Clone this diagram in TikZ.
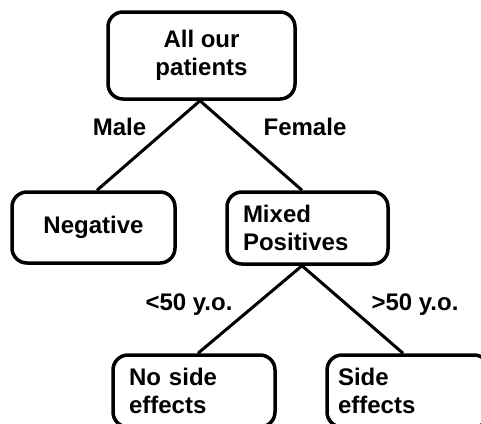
\documentclass[tikz,border=0pt]{standalone}
\usepackage{fontspec}
\setmainfont{Liberation Sans}
\usetikzlibrary{positioning}

\begin{document}
\begin{tikzpicture}
  [
   x=1pt,y=-1pt,
   font=\fontsize{24}{28}\selectfont\bfseries,
   box/.style={rectangle,rounded corners=15pt,line width=3.5pt,draw=black,inner xsep=16pt,inner ysep=0pt,minimum height=72pt},
   lbl/.style={anchor=base,inner sep=0pt},
   edge/.style={line width=3pt}
  ]
   \clip (0,0) rectangle (481,423);

   \node[box,minimum width=187pt,minimum height=87pt,align=center] (all) at (201.5,55.5) {All our\\patients};
   \node[box,minimum width=163pt,minimum height=71pt,align=center] (neg) at (93.5,227.5) {Negative};
   \node[box,text width=129pt,align=left] (mix) at (307.5,228) {Mixed\\Positives};
   \node[box,text width=130pt,align=left] (noside) at (194,391) {No side\\effects};
   \node[box,inner xsep=11pt,text width=140pt,align=left] (side) at (408,391) {Side\\effects};

   \node[lbl] (male) at (119.5,135) {Male};
   \node[lbl] (female) at (305,135) {Female};
   \node[lbl] (young) at (189,310) {<50 y.o.};
   \node[lbl] (old) at (415,310) {>50 y.o.};

   \draw[edge] ([xshift=-1.5pt]all.south) -- ([xshift=3.5pt]neg.north);
   \draw[edge] ([xshift=-1.5pt]all.south) -- ([xshift=-5.5pt]mix.north);
   \draw[edge] ([xshift=-5.5pt]mix.south) -- ([xshift=4pt]noside.north);
   \draw[edge] ([xshift=-5.5pt]mix.south) -- ([xshift=-5pt]side.north);

\end{tikzpicture}
\end{document}
